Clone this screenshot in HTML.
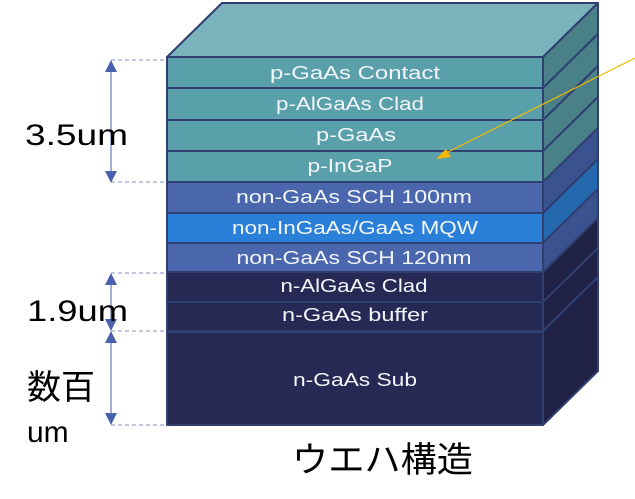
<!DOCTYPE html>
<html><head><meta charset="utf-8"><style>
html,body{margin:0;padding:0;background:#fff;}
svg{display:block;}
.l{font-family:"Liberation Sans","Noto Sans CJK JP",sans-serif;font-size:18px;fill:#f2f5fa;text-anchor:middle;}
.k{font-family:"Liberation Sans","Noto Sans CJK JP",sans-serif;fill:#000;}
</style></head><body>
<svg width="635" height="499" viewBox="0 0 635 499" xmlns="http://www.w3.org/2000/svg">
<g stroke="#2f3f70" stroke-width="2" stroke-linejoin="round">
<polygon points="167,57 222,3 598,3 543,57" fill="#7ab3bc"/>
<polygon points="543,57 598,3 598,34 543,88" fill="#4a8088"/>
<polygon points="543,88 598,34 598,66 543,120" fill="#4a8088"/>
<polygon points="543,120 598,66 598,97 543,151" fill="#4a8088"/>
<polygon points="543,151 598,97 598,128 543,182" fill="#4a8088"/>
<polygon points="543,182 598,128 598,159 543,213" fill="#3b5290"/>
<polygon points="543,213 598,159 598,189 543,243" fill="#2468ae"/>
<polygon points="543,243 598,189 598,218 543,272" fill="#3b5290"/>
<polygon points="543,272 598,218 598,248 543,302" fill="#1f2246"/>
<polygon points="543,302 598,248 598,277 543,331" fill="#1f2246"/>
<polygon points="543,331 598,277 598,371 543,425" fill="#1f2246"/>
<rect x="167" y="57" width="376" height="31" fill="#5aa0aa"/>
<rect x="167" y="88" width="376" height="32" fill="#5aa0aa"/>
<rect x="167" y="120" width="376" height="31" fill="#5aa0aa"/>
<rect x="167" y="151" width="376" height="31" fill="#5aa0aa"/>
<rect x="167" y="182" width="376" height="31" fill="#4a66ad"/>
<rect x="167" y="213" width="376" height="30" fill="#2a80d8"/>
<rect x="167" y="243" width="376" height="29" fill="#4a66ad"/>
<rect x="167" y="272" width="376" height="30" fill="#262953"/>
<rect x="167" y="302" width="376" height="29" fill="#262953"/>
<rect x="167" y="332" width="376" height="93" fill="#262953"/>
</g>
<g class="l">
<text x="355" y="79" textLength="170" lengthAdjust="spacingAndGlyphs">p-GaAs Contact</text>
<text x="350" y="110" textLength="148" lengthAdjust="spacingAndGlyphs">p-AlGaAs Clad</text>
<text x="356" y="141" textLength="80" lengthAdjust="spacingAndGlyphs">p-GaAs</text>
<text x="350" y="172" textLength="85" lengthAdjust="spacingAndGlyphs">p-InGaP</text>
<text x="354" y="203" textLength="236" lengthAdjust="spacingAndGlyphs">non-GaAs SCH 100nm</text>
<text x="355" y="234" textLength="246" lengthAdjust="spacingAndGlyphs">non-InGaAs/GaAs MQW</text>
<text x="354" y="264" textLength="235" lengthAdjust="spacingAndGlyphs">non-GaAs SCH 120nm</text>
<text x="354" y="292" textLength="147" lengthAdjust="spacingAndGlyphs">n-AlGaAs Clad</text>
<text x="355" y="321" textLength="146" lengthAdjust="spacingAndGlyphs">n-GaAs buffer</text>
<text x="355" y="386" textLength="124" lengthAdjust="spacingAndGlyphs">n-GaAs Sub</text>
</g>
<line x1="635" y1="58" x2="444" y2="154" stroke="#f5b800" stroke-width="1.2"/>
<polygon points="436,159 446,149 451,157" fill="#f5b800"/>
<g stroke="#9aa8d0" stroke-width="1.3" stroke-dasharray="4,3">
<line x1="111" y1="60" x2="167" y2="60"/>
<line x1="111" y1="182" x2="167" y2="182"/>
<line x1="111" y1="273" x2="167" y2="273"/>
<line x1="111" y1="331" x2="167" y2="331"/>
<line x1="111" y1="425" x2="167" y2="425"/>
</g>
<g stroke="#8796c8" stroke-width="1.5">
<line x1="111" y1="68" x2="111" y2="175"/>
<line x1="111" y1="280" x2="111" y2="323"/>
<line x1="111" y1="338" x2="111" y2="418"/>
</g>
<g fill="#4a62ad">
<polygon points="111,60 105,72 117,72"/><polygon points="111,183 105,171 117,171"/>
<polygon points="111,273 105,285 117,285"/><polygon points="111,331 105,319 117,319"/>
<polygon points="111,331 105,343 117,343"/><polygon points="111,425 105,413 117,413"/>
</g>
<text class="k" x="25" y="145" font-size="30" textLength="103" lengthAdjust="spacingAndGlyphs">3.5um</text>
<text class="k" x="27" y="321" font-size="30" textLength="101" lengthAdjust="spacingAndGlyphs">1.9um</text>
<text class="k" x="27" y="399" font-size="34">数百</text>
<text class="k" x="27" y="442" font-size="30">um</text>
<text class="k" x="292" y="472" font-size="35" textLength="181" lengthAdjust="spacingAndGlyphs">ウエハ構造</text>
</svg>
</body></html>
